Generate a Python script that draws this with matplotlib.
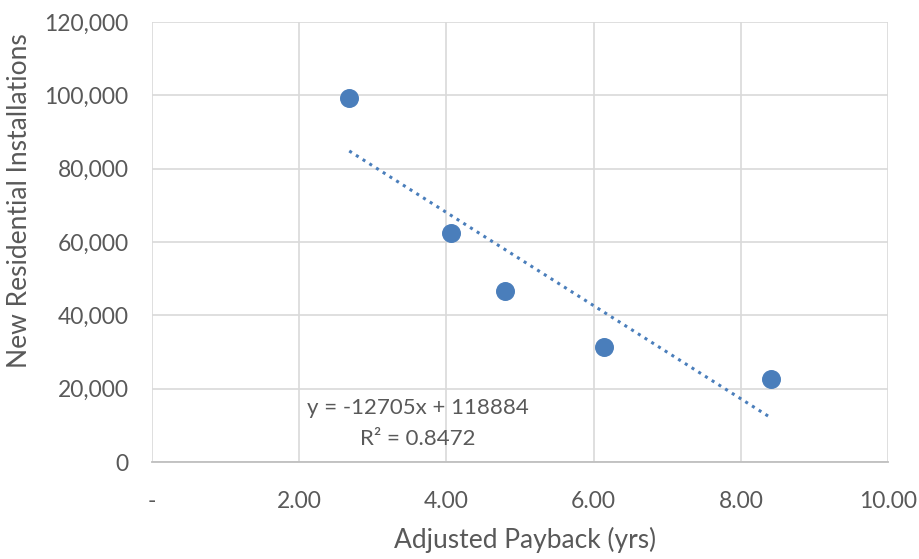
import matplotlib.pyplot as plt
from matplotlib.ticker import FuncFormatter

payback = [2.68, 4.06, 4.80, 6.14, 8.41]
installs = [99300, 62480, 46660, 31380, 22650]
slope = -12705
intercept = 118884
x_ticks = [0, 2, 4, 6, 8, 10]
y_ticks = [0, 20000, 40000, 60000, 80000, 100000, 120000]

plt.rcParams['font.family'] = ['Lato', 'DejaVu Sans']
grey = '#595959'
blue = '#4a7ebb'

fig = plt.figure(figsize=(9.19, 5.59), dpi=100)
ax = fig.add_axes([0.1654, 0.1735, 0.8009, 0.7871])

ax.scatter(payback, installs, s=160, color=blue, zorder=3)

# linear trendline across the data range
tx = [min(payback), max(payback)]
ty = [slope * v + intercept for v in tx]
ax.plot(tx, ty, color=blue, linestyle=(0, (1, 1.6)), linewidth=2.2, zorder=2)

ax.text(3.61, 14600, 'y = -12705x + 118884', ha='center', va='center', fontsize=16, color=grey)
ax.text(3.61, 6200, 'R² = 0.8472', ha='center', va='center', fontsize=16, color=grey)

ax.set_xlim(0, 10)
ax.set_ylim(0, 120000)
ax.set_xticks(x_ticks)
ax.set_yticks(y_ticks)
ax.xaxis.set_major_formatter(FuncFormatter(lambda v, p: '-' if v == 0 else f'{v:.2f}'))
ax.yaxis.set_major_formatter(FuncFormatter(lambda v, p: f'{v:,.0f}'))
ax.tick_params(length=0, labelsize=16.5, colors=grey)
ax.tick_params(axis='x', pad=21)
ax.tick_params(axis='y', pad=17)

ax.grid(True, color='#d9d9d9', linewidth=1.2)
ax.set_axisbelow(True)
for side in ['top', 'right', 'left']:
    ax.spines[side].set_visible(False)
ax.spines['bottom'].set_color('#bfbfbf')
ax.spines['bottom'].set_linewidth(1.3)

ax.set_xlabel('Adjusted Payback (yrs)', fontsize=19, color=grey)
ax.set_ylabel('New Residential Installations', fontsize=19, color=grey)
ax.xaxis.set_label_coords(0.507, -0.148)
ax.yaxis.set_label_coords(-0.163, 0.595)

fig.savefig('out.png', dpi=100)
